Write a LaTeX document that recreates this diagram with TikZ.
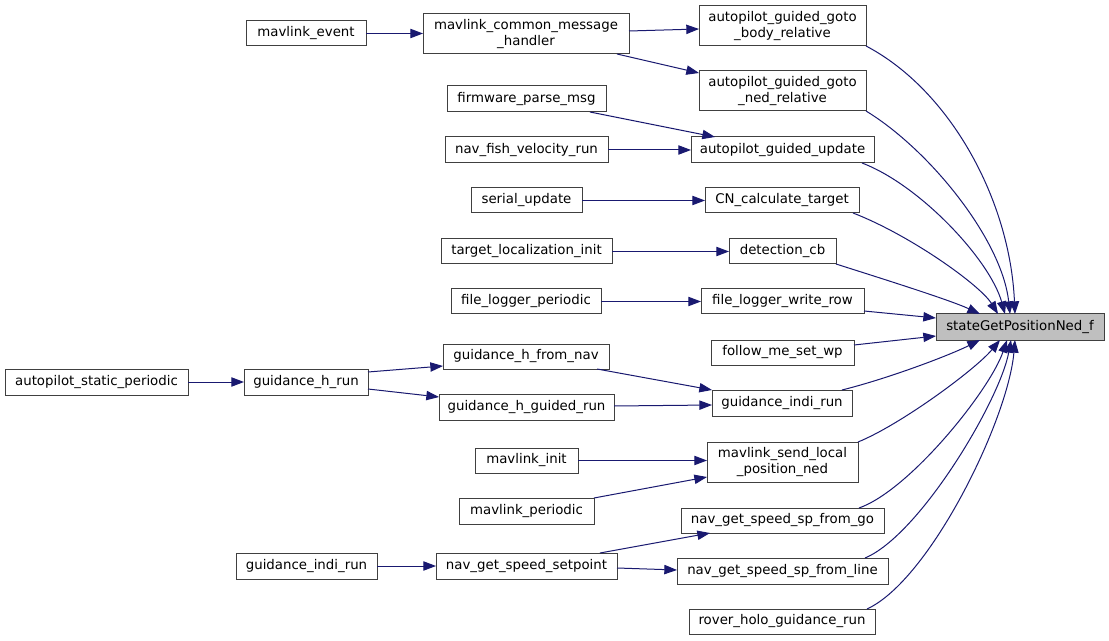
\documentclass[tikz,border=0pt]{standalone}
\usepackage{fontspec}
\setmainfont{DejaVu Sans}
\usetikzlibrary{arrows.meta}
\definecolor{edgecol}{HTML}{191970}
\definecolor{boxline}{HTML}{404040}
\definecolor{hilite}{HTML}{BFBFBF}
\tikzset{
  box/.style={draw=boxline, line width=0.75pt, fill=white, rectangle, inner sep=0pt, outer sep=0pt, align=center, font=\fontsize{10}{11.5}\selectfont},
  e/.style={draw=edgecol, line width=0.75pt, -{Triangle[length=9.5pt,width=7pt]}, color=edgecol}
}
\newcommand\bx[7][]{\node[box,#1, minimum width={(#5-#3)*0.75pt}, minimum height={(#6-#4)*0.75pt}] (#2) at ({(#3+#5)/2},{(#4+#6)/2}) {#7};}
\begin{document}
\begin{tikzpicture}[x=0.75pt,y=-0.75pt]
\useasboundingbox (0,0) rectangle (1109,641);
\fill[white] (0,0) rectangle (1109,641);
\bx{ev}{246}{21}{366}{46}{mavlink\_event}
\bx{mh}{423}{14}{629}{54}{mavlink\_common\_message\\\_handler}
\bx{gb}{699}{6}{866}{46}{autopilot\_guided\_goto\\\_body\_relative}
\bx{gn}{699}{71}{866}{111}{autopilot\_guided\_goto\\\_ned\_relative}
\bx{fw}{447}{86}{606}{112}{firmware\_parse\_msg}
\bx{nf}{445}{137}{608}{163}{nav\_fish\_velocity\_run}
\bx{gu}{691}{137}{874}{163}{autopilot\_guided\_update}
\bx{su}{471}{188}{582}{213}{serial\_update}
\bx{cn}{705}{188}{859}{213}{CN\_calculate\_target}
\bx{tl}{441}{239}{612}{264}{target\_localization\_init}
\bx{dc}{729}{239}{836}{264}{detection\_cb}
\bx{flp}{451}{289}{601}{314}{file\_logger\_periodic}
\bx{flw}{701}{289}{864}{314}{file\_logger\_write\_row}
\bx[fill=hilite]{st}{936}{314}{1104}{340}{stateGetPositionNed\_f}
\bx{fm}{711}{340}{854}{365}{follow\_me\_set\_wp}
\bx{asp}{5}{369}{188}{395}{autopilot\_static\_periodic}
\bx{ghr}{244}{369}{368}{395}{guidance\_h\_run}
\bx{ghn}{443}{344}{609}{369}{guidance\_h\_from\_nav}
\bx{ghg}{439}{394}{614}{420}{guidance\_h\_guided\_run}
\bx{gi}{712}{390}{852}{416}{guidance\_indi\_run}
\bx{mi}{475}{448}{578}{473}{mavlink\_init}
\bx{mp}{459}{498}{594}{524}{mavlink\_periodic}
\bx{ms}{707}{442}{858}{482}{mavlink\_send\_local\\\_position\_ned}
\bx{go}{681}{508}{884}{533}{nav\_get\_speed\_sp\_from\_go}
\bx{gil}{236}{553}{377}{579}{guidance\_indi\_run}
\bx{nss}{436}{553}{617}{579}{nav\_get\_speed\_setpoint}
\bx{li}{677}{558}{888}{584}{nav\_get\_speed\_sp\_from\_line}
\bx{rh}{689}{609}{875}{634}{rover\_holo\_guidance\_run}
% straight edges
\draw[e] (ev.east) -- (mh.west |- ev.east);
\draw[e] (mh.east |- 0,31) -- (gb.west |- 0,29);
\draw[e] (mh.south -| 617,0) -- (gn.west |- 0,73);
\draw[e] (fw.south -| 590,0) -- (gu.north -| 715,0);
\draw[e] (nf.east) -- (gu.west);
\draw[e] (su.east) -- (cn.west);
\draw[e] (tl.east) -- (dc.west);
\draw[e] (flp.east) -- (flw.west);
\draw[e] (asp.east) -- (ghr.west);
\draw[e] (ghr.east |- 0,372) -- (ghn.west |- 0,366);
\draw[e] (ghr.east |- 0,389) -- (ghg.west |- 0,397);
\draw[e] (ghn.south -| 597,0) -- (gi.north west);
\draw[e] (ghg.east |- 0,406) -- (gi.west |- 0,405);
\draw[e] (mi.east) -- (ms.west |- mi.east);
\draw[e] (mp.north east) -- (ms.west |- 0,477);
\draw[e] (gil.east) -- (nss.west);
\draw[e] (nss.north -| 600,0) -- (go.south -| 710,0);
\draw[e] (nss.east |- 0,568) -- (li.west |- 0,570);
% edges into stateGetPositionNed_f
\draw[e] (gb.south east) .. controls (950,90) and (1010,200) .. (st.north -| 1015,0);
\draw[e] (gn.south east) .. controls (930,150) and (1002,240) .. (st.north -| 1010,0);
\draw[e] (gu.south -| 862,0) .. controls (920,185) and (990,260) .. (st.north -| 1005,0);
\draw[e] (cn.south -| 853,0) .. controls (910,235) and (980,285) .. (st.north -| 998,0);
\draw[e] (dc.south east) .. controls (880,278) and (950,300) .. (st.north -| 980,0);
\draw[e] (flw.east |- 0,311) -- (st.west |- 0,318);
\draw[e] (fm.east |- 0,345) -- (st.west |- 0,336);
\draw[e] (gi.north -| 842,0) .. controls (890,378) and (950,355) .. (st.south -| 980,0);
\draw[e] (ms.north east) .. controls (900,425) and (975,370) .. (st.south -| 1000,0);
\draw[e] (go.north -| 859,0) .. controls (910,490) and (990,390) .. (st.south -| 1007,0);
\draw[e] (li.north -| 865,0) .. controls (920,535) and (1000,400) .. (st.south -| 1011,0);
\draw[e] (rh.north -| 867,0) .. controls (930,580) and (1008,420) .. (st.south -| 1015,0);
\end{tikzpicture}
\end{document}
